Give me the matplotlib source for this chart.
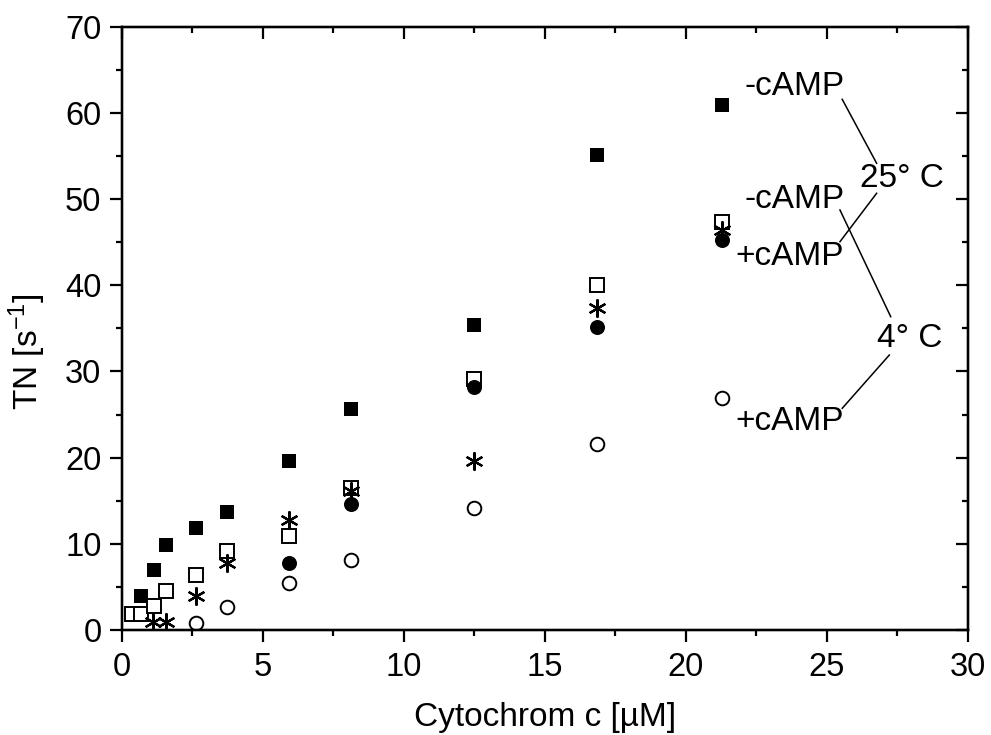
import matplotlib
matplotlib.use("Agg")
import matplotlib.pyplot as plt
from matplotlib.ticker import MultipleLocator

plt.rcParams['font.family'] = ['Liberation Sans', 'DejaVu Sans']
plt.rcParams['mathtext.fontset'] = 'custom'
plt.rcParams['mathtext.rm'] = 'Liberation Sans'
plt.rcParams['mathtext.it'] = 'Liberation Sans'

# -cAMP, 25 C (filled squares)
x_sq_f = [0.68, 1.16, 1.56, 2.63, 3.74, 5.95, 8.12, 12.48, 16.85, 21.27]
y_sq_f = [3.94, 6.96, 9.86, 11.8, 13.7, 19.64, 25.6, 35.4, 55.1, 60.95]
# +cAMP, 25 C (filled circles)
x_ci_f = [5.95, 8.12, 12.48, 16.85, 21.27]
y_ci_f = [7.74, 14.58, 28.2, 35.1, 45.25]
# -cAMP, 4 C (open squares)
x_sq_o = [0.35, 0.68, 1.16, 1.56, 2.63, 3.74, 5.95, 8.12, 12.48, 16.85, 21.27]
y_sq_o = [1.86, 1.86, 2.78, 4.56, 6.38, 9.17, 10.94, 16.44, 29.1, 40.0, 47.3]
# +cAMP, 4 C (open circles)
x_ci_o = [2.63, 3.74, 5.95, 8.12, 12.48, 16.85, 21.27]
y_ci_o = [0.8, 2.7, 5.42, 8.12, 14.19, 21.6, 26.9]
# asterisks
x_st = [1.12, 1.56, 2.63, 3.74, 5.95, 8.12, 12.48, 16.85, 21.27]
y_st = [0.96, 0.96, 3.94, 7.81, 12.8, 16.1, 19.64, 37.4, 46.4]

fig = plt.figure(figsize=(9.91, 7.35), dpi=100)
ax = fig.add_axes([0.1228, 0.1429, 0.9765 - 0.1228, 0.9637 - 0.1429])

ax.plot(x_sq_f, y_sq_f, 's', color='black', ms=10.5, mew=0, ls='none')
ax.plot(x_sq_o, y_sq_o, 's', mfc='white', mec='black', ms=9.5, mew=1.4, ls='none')
ax.plot(x_st, y_st, marker=(6, 2, 0), color='black', ms=13, mew=1.6, ls='none')
ax.plot(x_ci_f, y_ci_f, 'o', color='black', ms=10.8, mew=0, ls='none')
ax.plot(x_ci_o, y_ci_o, 'o', mfc='white', mec='black', ms=9.8, mew=1.4, ls='none')

ax.set_xlim(0, 30)
ax.set_ylim(0, 70)
ax.xaxis.set_major_locator(MultipleLocator(5))
ax.xaxis.set_minor_locator(MultipleLocator(2.5))
ax.yaxis.set_major_locator(MultipleLocator(10))
ax.yaxis.set_minor_locator(MultipleLocator(5))

for s in ax.spines.values():
    s.set_linewidth(1.6)

ax.tick_params(which='both', direction='out', width=1.6, labelsize=23.5,
               top=False, right=False)
ax.tick_params(which='major', length=8.6)
ax.tick_params(which='minor', length=4.3)
ax.tick_params(axis='x', pad=7)
ax.tick_params(axis='y', pad=6)

# inward ticks on top and right
axt = ax.twiny()
axt.set_xlim(0, 30)
axt.xaxis.set_major_locator(MultipleLocator(5))
axt.xaxis.set_minor_locator(MultipleLocator(2.5))
axt.tick_params(which='both', direction='in', width=1.6, labeltop=False, top=True)
axt.tick_params(which='major', length=8.6)
axt.tick_params(which='minor', length=4.3)
axr = ax.twinx()
axr.set_ylim(0, 70)
axr.yaxis.set_major_locator(MultipleLocator(10))
axr.yaxis.set_minor_locator(MultipleLocator(5))
axr.tick_params(which='both', direction='in', width=1.6, labelright=False, right=True)
axr.tick_params(which='major', length=8.6)
axr.tick_params(which='minor', length=4.3)
for a in (axt, axr):
    for s in a.spines.values():
        s.set_linewidth(1.6)

ax.set_xlabel('Cytochrom c [µM]', fontsize=24)
ax.xaxis.label.set_va('baseline')
ax.xaxis.set_label_coords(0.5, (630 - 726) / 603.3)
ax.set_ylabel('TN [s$^{\\mathrm{-1}}$]', fontsize=24)
ax.yaxis.label.set_va('baseline')
ax.yaxis.set_label_coords((38.3 - 121.7) / 846.0, (630 - 351.7) / 603.3)

# annotations
fs = 24
ax.text(22.10, 63.04, '-cAMP', fontsize=fs, ha='left', va='center')
ax.text(26.18, 52.4, '25° C', fontsize=fs, ha='left', va='center')
ax.text(22.07, 49.9, '-cAMP', fontsize=fs, ha='left', va='center')
ax.text(21.75, 43.3, '+cAMP', fontsize=fs, ha='left', va='center')
ax.text(26.78, 33.84, '4° C', fontsize=fs, ha='left', va='center')
ax.text(21.75, 24.17, '+cAMP', fontsize=fs, ha='left', va='center')

ax.plot([25.55, 26.77], [61.57, 54.15], color='black', lw=1.1)
ax.plot([25.47, 26.77], [45.05, 50.67], color='black', lw=1.1)
ax.plot([25.47, 27.27], [48.73, 36.35], color='black', lw=1.1)
ax.plot([25.55, 27.22], [25.72, 31.9], color='black', lw=1.1)

fig.savefig('out.png', dpi=100)
